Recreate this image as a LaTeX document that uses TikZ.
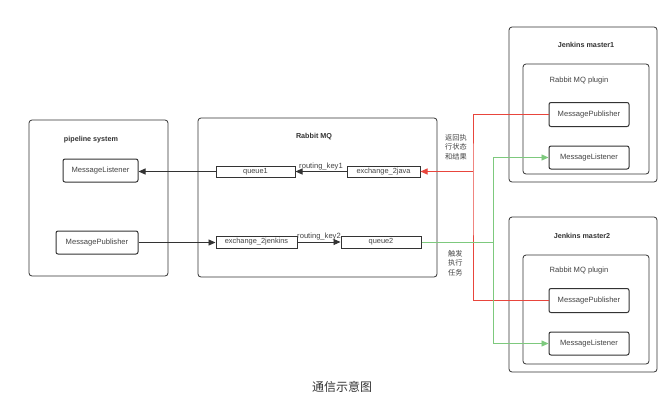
\documentclass[tikz,border=0pt]{standalone}
\usepackage{fontspec}
\setmainfont{Liberation Sans}
\newfontfamily\cjk{Noto Sans CJK SC}
\usetikzlibrary{arrows.meta}
\definecolor{ln}{HTML}{333333}
\definecolor{tx}{HTML}{444444}
\definecolor{rd}{HTML}{E8453C}
\definecolor{gn}{HTML}{7DC97D}
\begin{document}
\begin{tikzpicture}[x=1pt,y=-1pt,
  frame/.style={draw=ln,line width=0.8pt,rounded corners=3pt,inner sep=0pt},
  item/.style={draw=ln,line width=1pt,rounded corners=2pt,inner sep=0pt,font=\fontsize{7.6}{8}\selectfont,text=tx},
  bar/.style={draw=ln,line width=1pt,inner sep=0pt,font=\fontsize{7.4}{8}\selectfont,text=tx},
  ttl/.style={font=\bfseries\fontsize{7.2}{8}\selectfont,text=ln,inner sep=0pt},
  sub/.style={font=\fontsize{7.6}{8}\selectfont,text=tx,inner sep=0pt},
  blk/.style={draw=ln,line width=0.9pt,-{Triangle[length=7pt,width=6pt]}},
  red/.style={draw=rd,line width=0.9pt},
  grn/.style={draw=gn,line width=0.9pt},
  cn/.style={font=\cjk\fontsize{7.2}{9.5}\selectfont,text=tx,align=left,inner sep=0pt}]
\useasboundingbox[fill=white] (0,0) rectangle (667,405);
% outer frames
\node[frame,minimum width=139pt,minimum height=156pt] (pipe) at (98.5,198) {};
\node[frame,minimum width=239pt,minimum height=159pt] (rmq) at (317.5,197.5) {};
\node[frame,minimum width=148pt,minimum height=155pt] (jm1) at (583,104.5) {};
\node[frame,minimum width=126pt,minimum height=110pt] (pl1) at (586,119) {};
\node[frame,minimum width=148pt,minimum height=155pt] (jm2) at (583,294.5) {};
\node[frame,minimum width=126pt,minimum height=109pt] (pl2) at (586,309.5) {};
% titles
\node[ttl] (tpipe) at (91,140) {pipeline system};
\node[ttl] (trmq) at (314,137) {Rabbit MQ};
\node[ttl] (tjm1) at (586,45) {Jenkins master1};
\node[sub] (tpl1) at (579,81) {Rabbit MQ plugin};
\node[ttl] (tjm2) at (582,236) {Jenkins master2};
\node[sub] (tpl2) at (579,271) {Rabbit MQ plugin};
% pipeline nodes
\node[item,minimum width=75pt,minimum height=23pt] (pml) at (100.5,170.5) {MessageListener};
\node[item,minimum width=82pt,minimum height=23pt] (pmp) at (97,242.5) {MessagePublisher};
% rabbit nodes
\node[bar,minimum width=79pt,minimum height=11pt] (q1) at (255.5,171.5) {queue1};
\node[bar,minimum width=73pt,minimum height=11pt] (ex1) at (383.5,171.5) {exchange\_2java};
\node[bar,minimum width=81pt,minimum height=12pt] (ex2) at (256.5,242) {exchange\_2jenkins};
\node[bar,minimum width=80pt,minimum height=12pt] (q2) at (381,242) {queue2};
% jenkins nodes
\node[item,minimum width=80pt,minimum height=24pt] (mp1) at (589,114.5) {MessagePublisher};
\node[item,minimum width=80pt,minimum height=23pt] (ml1) at (589,157.5) {MessageListener};
\node[item,minimum width=80pt,minimum height=24pt] (mp2) at (589,300.5) {MessagePublisher};
\node[item,minimum width=80pt,minimum height=23pt] (ml2) at (589,343.5) {MessageListener};
% black arrows
\draw[blk] (ex1.west) -- node[above=1pt,sub,inner sep=0pt] (rk1) {routing\_key1} (q1.east);
\draw[blk] (q1.west) -- (q1.west -| pml.east);
\draw[blk] (pmp.east) -- (pmp.east -| ex2.west);
\draw[blk] (ex2.east) -- node[above=1pt,sub,inner sep=0pt] (rk2) {routing\_key2} (q2.west);
% red
\coordinate (rj) at (473,171.5);
\draw[red] (mp1.west) -| (rj) |- (mp2.west);
\draw[red,-{Triangle[length=7pt,width=6pt]}] (rj) -- (ex1.east);
% green
\coordinate (gj) at (493,242);
\draw[grn] (q2.east) -- (gj);
\draw[grn,-{Triangle[length=7pt,width=6pt]}] (gj) |- (ml1.west);
\draw[grn,-{Triangle[length=7pt,width=6pt]}] (gj) |- (ml2.west);
% labels
\node[cn,anchor=north west] (lred) at (445,134) {返回执\\行状态\\和结果};
\node[cn,anchor=north west] (lgrn) at (448,250) {触发\\执行\\任务};
\node[font=\cjk\fontsize{12}{13}\selectfont,text=ln,inner sep=0pt] (cap) at (342,387) {通信示意图};
\end{tikzpicture}
\end{document}
